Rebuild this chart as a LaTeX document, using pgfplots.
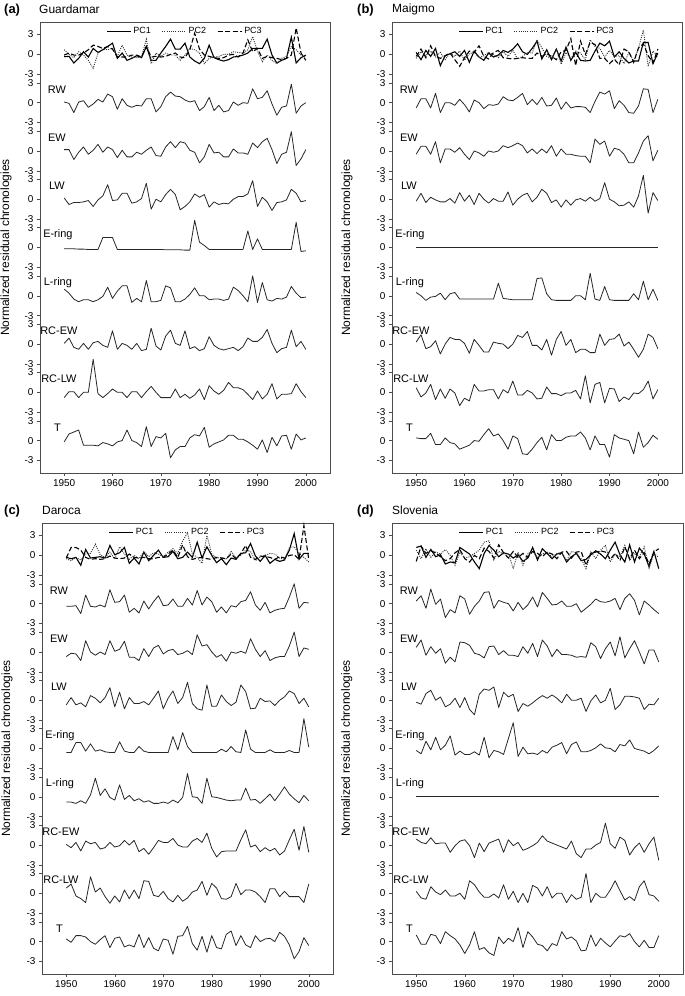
\documentclass[border=0pt]{standalone}
\usepackage{pgfplots}
\usepackage{pgfplotstable}
\pgfplotsset{compat=1.18}
\usepackage{fontspec}
\setmainfont{Liberation Sans}

\pgfplotstableread{
name 1950 1951 1952 1953 1954 1955 1956 1957 1958 1959 1960 1961 1962 1963 1964 1965 1966 1967 1968 1969 1970 1971 1972 1973 1974 1975 1976 1977 1978 1979 1980 1981 1982 1983 1984 1985 1986 1987 1988 1989 1990 1991 1992 1993 1994 1995 1996 1997 1998 1999 2000
pa -0.35 -0.3 -1.3 -0.6 0.4 -0.4 0.9 0.3 0.7 1.2  1.7 -0.6 0.2 -0.9 -0.6 -0.2 -0.5 1.2 -0.9 -0.9  0.2 1.2 2.3 0.8 0.8 1.7 -0.4 -1.0 -1.4 -0.6  1.4 -0.5 -0.8 -1.0 -0.8 -0.4 -0.3 -0.1 0.2 0.9  0.9 0.9 2.3 -0.1 -1.3 -0.9 -0.6 2.6 -1.3 -0.5  -0.1
pb 0.7 0.0 -0.5 0.4 -0.1 -0.9 -2.1 0.2 0.8 0.7  0.9 -0.3 1.4 -0.1 -0.4 -0.5 -0.4 2.3 -1.4 0.2  -0.3 0.2 -0.1 -0.1 -0.9 -0.1 0.9 0.7 0.2 -1.4  -0.6 -0.4 -0.3 0.0 0.0 0.4 0.3 0.2 0.7 2.7  0.5 -1.1 -0.1 -0.9 -1.4 -0.6 -0.3 1.2 0.7 -0.1  -0.4
pc -0.1 0.2 -0.1 -0.1 0.2 0.7 1.4 1.2 0.9 1.2  0.8 -0.4 -0.4 -0.4 -0.1 -0.1 -0.4 1.2 -0.4 -0.3  -0.4 -0.3 0.0 0.2 -0.4 -0.5 0.7 3.2 0.8 -0.1  -0.3 -0.5 -0.6 -0.5 -0.1 0.0 -0.4 0.2 2.2 0.4  0.9 -0.6 -0.3 -0.5 -0.6 -0.8 -0.6 -0.1 4.0 0.2  -0.9
rw 0.1 -0.1 -1.5 0.1 0.3 -0.7 -0.2 0.5 0.1 1.3  0.9 -1.0 0.6 -0.4 -0.7 -0.4 -0.5 0.6 0.6 -1.4  -0.6 0.9 1.6 1.0 0.9 0.4 0.1 0.3 -1.2 -0.6  0.8 -1.2 -0.4 -1.4 -1.2 0.1 -0.4 0.0 -0.1 2.1  0.6 0.8 1.8 -0.2 -1.9 -0.7 -0.5 2.8 -1.6 -0.5  0.0
ew 0.2 0.2 -1.3 -0.2 0.6 -0.5 0.1 1.0 -0.2 0.6  0.2 -1.0 0.1 -0.9 -0.9 -0.2 -0.5 0.1 0.6 -0.7  -0.8 0.6 1.4 0.5 1.4 1.2 0.1 -0.2 -1.8 -0.9  1.0 -0.3 -0.2 -0.9 -0.9 0.3 -0.3 -0.3 -0.5 1.2  0.5 1.4 1.9 0.2 -1.9 -0.5 -0.2 2.9 -2.2 -1.2  0.2
lw 0.2 -0.8 -0.5 -0.5 -0.4 -0.2 -1.1 -0.1 0.5 2.2  -0.2 -0.1 0.9 0.9 -0.6 -0.4 0.1 2.4 -1.5 0.0  -0.4 0.7 1.5 0.7 -1.6 -1.1 -0.4 0.8 0.3 0.7  -1.2 -0.4 -0.8 -0.6 -0.7 0.0 0.4 0.4 0.8 2.8  -1.1 0.3 -0.4 -1.7 -0.5 -0.4 -0.1 1.5 0.9 -0.4  -0.2
er -0.2 -0.2 -0.2 -0.25 -0.25 -0.3 -0.3 -0.3 1.5 1.5  1.5 -0.3 -0.3 -0.3 -0.3 -0.3 -0.3 -0.3 -0.3 -0.3  -0.3 -0.35 -0.35 -0.35 -0.35 -0.4 -0.4 4.1 0.8 0.3  -0.3 -0.3 -0.3 -0.3 -0.3 -0.3 -0.3 -0.3 2.5 -0.3  1.3 -0.3 -0.3 -0.3 -0.3 -0.3 -0.3 -0.3 3.8 -0.6  -0.5
lr 1.0 0.4 -0.5 -0.9 -0.6 -0.6 -0.9 -0.6 -0.1 1.3  -0.4 0.7 1.5 1.5 -1.0 -0.4 -0.9 2.3 -0.9 -0.9  -0.7 1.5 1.2 -0.9 -0.9 -0.5 0.2 1.2 0.0 0.0  -0.6 -0.5 -0.5 -0.7 -0.5 1.3 0.8 0.0 -0.9 3.0  -1.0 2.0 -0.6 -0.8 -0.4 -0.5 -0.2 1.4 0.4 -0.3  -0.2
rce 0.1 0.9 -0.5 -0.8 0.1 -0.8 0.2 0.4 -0.2 -0.5  2.0 -0.8 0.1 -0.2 -0.8 0.1 -1.0 -0.8 2.4 -0.3  -0.9 1.2 2.1 0.1 -0.2 2.0 -0.7 -0.4 -1.0 -0.7  1.1 -0.2 -0.7 -0.9 -0.7 -0.5 -1.0 -0.4 0.9 0.4  0.4 1.0 2.2 0.1 -1.3 -0.7 -0.5 2.1 -0.4 0.4  -0.8
rcl -0.8 0.1 0.1 -0.8 0.0 0.0 5.0 -0.2 -0.8 -0.2  0.5 0.0 0.0 -0.8 0.1 0.1 -0.8 0.1 0.9 0.0  -0.8 -0.8 -0.8 0.5 -0.8 -0.3 -0.9 -0.4 0.5 -1.1  1.0 0.2 -0.3 0.3 1.5 0.7 0.7 0.4 -0.3 -1.1  0.2 -1.0 -0.3 1.3 -1.0 -0.3 -0.3 -0.2 1.3 0.1  -0.8
t -0.2 1.0 1.3 1.6 -0.7 -0.7 -0.7 -0.8 -0.3 -0.5  -0.8 -0.2 0.0 1.6 0.0 -0.3 -0.9 2.1 -0.9 0.6  0.4 1.1 -2.6 -1.4 -0.9 -0.9 0.4 0.9 0.7 2.0  -1.0 -0.5 -0.2 0.1 0.8 0.8 0.2 0.2 -0.2 -0.7  -1.3 0.1 -1.8 0.5 -0.8 0.7 0.8 -1.3 1.0 0.1  0.4
}\rawA

\pgfplotstableread{
name 1950 1951 1952 1953 1954 1955 1956 1957 1958 1959 1960 1961 1962 1963 1964 1965 1966 1967 1968 1969 1970 1971 1972 1973 1974 1975 1976 1977 1978 1979 1980 1981 1982 1983 1984 1985 1986 1987 1988 1989 1990 1991 1992 1993 1994 1995 1996 1997 1998 1999 2000
pa 0.3 -0.8 0.6 -0.3 0.9 -1.7 -0.2 0.1 0.4 -0.3  0.6 -1.2 0.5 -0.4 -0.9 0.2 -0.4 -0.1 0.6 0.3  0.8 1.6 0.4 0.0 0.9 2.0 -0.7 0.7 -0.8 0.8  -1.0 1.1 -0.9 0.3 -0.9 -1.0 -0.9 0.5 1.7 1.3  2.0 -0.4 0.4 -0.6 -1.3 -1.0 -1.0 1.8 1.8 -1.4  0.2
pb -0.6 0.4 -0.2 0.5 -0.4 0.3 -0.8 0.2 -0.3 0.5  -0.9 0.1 0.3 -0.5 -0.2 0.3 0.0 -0.5 0.4 -0.3  0.6 -0.7 -0.3 0.3 0.2 2.2 1.0 -0.3 -0.6 0.8  -1.5 0.3 -0.6 0.5 0.2 -0.8 2.2 1.2 0.9 -0.4  0.6 -0.3 -0.2 -1.4 0.3 -1.0 0.9 3.7 -1.8 0.5  -0.3
pc -0.3 0.8 -0.5 1.3 -0.3 -0.6 -0.2 0.2 -0.8 -1.8  -0.5 0.5 0.3 1.3 -0.3 -0.7 0.3 0.6 -0.5 -0.6  -0.7 -0.6 -0.5 -0.6 -0.6 0.2 -0.3 0.1 -0.3 -0.8  0.4 0.6 2.4 -1.7 2.0 0.0 1.8 1.5 -0.6 -0.6  -1.4 -0.7 -1.6 0.8 0.4 -1.2 1.0 1.6 -0.2 -1.3  0.8
rw -0.8 0.6 0.6 -0.8 1.4 -1.5 0.0 0.0 -0.4 0.5  -0.3 -1.4 0.4 0.0 -0.9 -0.3 -0.4 -0.2 0.9 0.4  0.3 0.8 1.4 -0.3 0.5 -0.3 0.8 -0.5 -0.4 0.7  -1.0 0.1 -0.8 -0.6 -0.6 -0.7 -1.5 0.2 1.6 1.3  1.8 -0.9 0.3 -0.4 -1.5 -1.6 -0.5 2.1 2.0 -1.5  0.5
ew -0.5 0.7 0.7 -0.5 1.4 -1.8 0.3 0.3 -0.2 0.5  -0.5 -1.3 0.0 -0.3 -0.8 0.0 -0.2 0.0 0.8 0.5  0.8 1.2 0.8 -0.3 0.3 -0.4 0.3 -0.3 0.8 -0.8  0.3 -0.5 -0.5 -0.7 -0.8 -0.8 -1.8 1.8 1.0 1.5  -0.8 0.4 0.2 -0.5 -1.8 -1.8 -0.3 1.5 2.3 -1.5  0.1
lw -0.3 0.9 -0.5 0.3 -0.1 -0.4 -0.4 0.1 -0.6 1.0  -0.3 0.6 -0.8 0.9 0.0 -0.6 0.1 -0.3 -0.3 1.1  -0.9 0.0 0.6 0.9 -0.4 0.3 1.5 0.9 -0.5 -0.1  -1.2 -0.1 -0.9 -0.1 0.1 -0.3 0.3 -0.3 0.1 2.5  0.0 -0.4 -1.0 -0.9 -0.4 -1.2 0.5 3.6 -2.1 1.0  -0.2
er 0 0 0 0 0 0 0 0 0 0  0 0 0 0 0 0 0 0 0 0  0 0 0 0 0 0 0 0 0 0  0 0 0 0 0 0 0 0 0 0  0 0 0 0 0 0 0 0 0 0  0
lr 0.5 0.0 -0.7 -0.2 -0.1 0.4 -0.6 0.3 0.5 -0.5  -0.5 -0.5 -0.5 -0.5 -0.5 -0.5 -0.5 1.9 -0.4 -0.5  -0.6 -0.6 -0.6 -0.6 -0.6 2.6 2.7 0.3 -0.6 -0.7  -0.7 -0.7 -0.7 0.0 0.0 -0.6 3.4 -0.5 -0.7 1.4  -0.6 -0.7 -0.7 -0.7 -0.7 0.3 -0.6 2.2 -0.6 1.0  -0.7
rce 0.3 1.4 -0.7 -0.4 0.5 -1.5 0.0 1.0 0.7 0.7  0.1 -1.4 0.7 -0.2 -1.2 -1.2 0.3 0.1 0.0 -0.7  0.0 1.3 1.0 1.9 -0.2 -0.2 -0.9 0.7 -1.7 0.7  1.9 -0.2 0.7 -1.3 -0.8 -0.8 -1.3 -1.3 1.5 -0.2  0.7 0.8 1.5 -0.3 0.3 -0.8 -2.0 -0.8 1.5 1.0  -0.7
rcl 0.7 -0.7 -0.1 1.2 -1.1 0.5 -0.9 0.5 -0.1 -2.0  -0.9 -1.3 1.2 0.2 0.2 0.4 0.4 -1.0 0.4 -0.1  1.7 -0.4 -0.4 0.3 -0.1 -1.0 -0.9 0.8 -0.2 -0.2  -0.5 -0.1 -0.1 0.3 -1.0 2.5 -1.6 1.2 1.5 -1.6  0.6 0.5 -1.4 -0.7 -1.1 -0.1 -0.2 0.4 1.7 -1.0  0.4
t 0.4 0.3 0.3 1.1 -0.6 -0.6 0.4 -0.3 -0.5 -1.3  -1.0 -0.7 0.0 -0.1 0.9 1.8 0.7 1.0 0.0 -1.3  0.7 0.3 -2.0 -2.1 -1.3 -0.3 0.5 -1.4 0.9 0.0  0.0 0.5 0.7 0.7 1.3 0.4 -1.4 0.7 -0.6 -0.6  -2.5 0.9 0.4 0.2 0.0 -2.0 1.3 -1.0 -0.3 0.8  0.2
}\rawB

\pgfplotstableread{
name 1950 1951 1952 1953 1954 1955 1956 1957 1958 1959 1960 1961 1962 1963 1964 1965 1966 1967 1968 1969 1970 1971 1972 1973 1974 1975 1976 1977 1978 1979 1980 1981 1982 1983 1984 1985 1986 1987 1988 1989 1990 1991 1992 1993 1994 1995 1996 1997 1998 1999 2000
pa -0.3 -0.5 -0.3 -1.5 0.9 -0.4 -0.3 -0.2 -0.4 1.5  0.1 0.4 1.2 -1.2 -0.4 -1.3 0.5 -0.8 0.0 0.8  -0.3 -0.2 0.6 -0.5 -0.3 0.5 -0.3 2.0 -0.4 1.3  0.0 -1.1 -0.5 -1.4 -0.4 -0.6 0.3 0.4 1.8 -0.1  -0.9 0.0 -1.2 -0.6 -0.9 -0.7 0.8 3.3 -0.6 0.3  0.3
pb -0.5 -0.8 -0.3 -0.7 0.2 0.3 1.7 0.1 -0.3 0.5  -0.5 1.3 0.2 -0.6 0.0 -0.5 0.6 -0.2 0.4 0.2  -0.2 0.5 1.0 0.3 2.2 3.4 0.2 -0.3 -1.2 3.0  0.2 -0.4 -0.3 -0.6 0.6 -0.4 0.0 0.8 0.6 -0.8  -0.2 0.0 0.3 0.2 -0.4 -0.6 1.2 1.3 0.3 -0.3  -1.0
pc -0.4 1.2 1.2 0.8 -0.3 -0.6 -0.5 -0.6 -0.5 -0.1  -0.4 -0.5 -0.4 0.2 -0.3 -0.4 -0.3 -0.5 -0.5 -0.3  -0.3 0.2 0.8 -0.3 1.6 -0.2 -0.6 -0.4 -0.3 -0.5  -0.6 -0.3 -0.4 -0.5 0.2 -0.5 0.3 1.5 -0.3 -0.6  -0.1 -0.2 -0.3 -0.6 -0.2 -0.4 0.0 0.1 -0.6 4.5  -0.6
rw -0.4 -0.4 -0.3 -1.5 1.3 -0.4 -0.5 -0.2 -0.5 2.1  0.2 0.3 1.3 -1.3 -0.7 -1.4 0.4 -0.8 0.3 1.2  -0.3 -0.2 0.7 -0.4 -0.4 0.8 -0.2 2.0 -0.2 1.0  0.3 -1.3 -0.5 -1.4 -0.3 -0.5 0.3 0.5 1.8 -0.2  -1.0 0.2 -1.4 -1.0 -0.8 -0.7 1.0 3.0 -0.7 0.2  0.1
ew -0.7 -0.2 -0.3 -1.3 1.7 0.0 -0.5 0.0 -0.4 1.7  0.1 0.4 1.6 -0.8 -0.8 -1.3 0.5 -0.7 0.6 1.0  -0.3 0.2 0.4 -0.4 -0.2 0.2 -0.4 2.6 0.9 1.1  0.0 -0.8 -0.4 -1.4 0.0 -0.2 0.1 -0.2 2.0 0.4  -0.7 0.2 -1.3 -0.9 -0.7 -0.7 0.9 3.0 -0.7 0.6  0.4
lw -0.7 0.4 -0.7 -0.4 -1.0 0.7 0.3 -0.4 0.4 1.9  -1.0 1.2 -1.3 0.4 -0.5 -0.5 -0.2 -0.7 0.3 1.4  -1.3 0.3 1.4 -0.5 0.4 2.7 -0.5 -1.3 -1.5 2.3  -0.9 -0.9 0.8 -0.2 -0.8 -0.3 2.3 1.3 -1.3 -1.2  0.3 -0.2 -0.1 -0.8 0.0 0.5 1.4 1.0 -0.5 0.3  -1.0
er -0.6 -0.6 0.9 0.9 -0.4 0.7 -0.4 -0.2 -0.5 -0.6  -0.6 1.0 -0.4 -0.6 -0.6 0.3 -0.4 -0.6 -0.6 -0.6  -0.6 -0.6 1.8 -0.2 2.4 0.3 -0.6 -0.6 -0.6 -0.6  -0.6 -0.6 -0.1 -0.5 0.3 -0.5 -0.6 2.8 -0.1 -0.6  -0.6 -0.6 -0.2 -0.6 -0.6 -0.6 -0.3 -0.6 -0.6 4.5  0.2
lr -0.8 -0.8 -1.0 -0.6 -1.0 0.3 2.8 0.2 1.2 -0.1  -0.5 1.8 -0.4 0.2 -0.6 -0.3 -0.8 -0.6 -1.0 -1.0  -0.8 -1.0 -0.5 -0.9 -0.1 3.5 0.0 -0.1 -1.0 2.8  0.0 -0.1 -0.3 -0.5 -0.6 -0.5 -0.5 1.3 -0.5 -0.4  -1.0 -0.3 0.4 -0.6 0.4 1.5 0.4 -0.3 -0.9 0.2  -0.6
rce 0.1 -0.4 0.4 -0.9 0.6 0.2 0.4 -0.6 -0.4 0.4  -0.3 -0.1 0.7 0.0 0.7 -1.0 -0.5 -1.4 -0.4 0.7  0.4 0.4 1.0 0.0 -0.3 -0.3 0.6 1.0 0.4 1.8  -0.5 -1.8 -1.0 -0.9 -0.9 -0.9 0.8 2.3 -0.3 0.0  -1.0 -0.4 -0.9 -0.5 -1.5 -0.9 0.8 2.4 -0.8 2.8  -1.1
rcl 0.8 1.4 -0.4 -0.8 -1.4 2.5 0.2 0.8 -0.5 -1.5  -0.4 -1.3 0.5 -0.8 0.5 -0.8 1.9 1.8 -0.3 -0.5  0.3 -0.8 -1.3 -0.3 -1.2 -0.7 0.2 0.5 1.8 -0.3  1.5 0.8 -0.8 -0.9 -0.5 1.5 -0.2 0.5 0.5 0.2  -0.5 -1.4 0.7 0.7 -0.5 0.3 -0.5 -0.5 -0.5 -1.4  1.4
t 0.4 -0.1 0.9 0.9 0.7 0.0 -0.4 0.3 0.9 -0.9  0.5 0.7 -0.8 -0.5 -0.8 1.1 -0.9 0.6 -1.0 -1.4  0.4 0.2 -1.9 0.8 0.9 2.3 -0.3 -1.3 0.8 -1.6  0.9 -0.9 -1.1 1.1 1.6 -0.6 0.9 -0.5 -0.9 0.9  0.0 0.4 0.5 0.0 1.4 0.8 -0.5 -2.6 -1.5 0.6  -0.6
}\rawC

\pgfplotstableread{
name 1950 1951 1952 1953 1954 1955 1956 1957 1958 1959 1960 1961 1962 1963 1964 1965 1966 1967 1968 1969 1970 1971 1972 1973 1974 1975 1976 1977 1978 1979 1980 1981 1982 1983 1984 1985 1986 1987 1988 1989 1990 1991 1992 1993 1994 1995 1996 1997 1998 1999 2000
pa 1.2 1.4 -0.3 0.9 -0.2 0.1 -1.3 -1.0 -1.1 1.2  0.7 0.2 -1.0 -2.0 0.3 1.5 0.8 -0.2 0.4 0.2  -0.4 0.1 -0.9 -0.4 1.2 -0.7 1.0 0.3 -0.5 0.2  0.4 -1.0 -0.2 0.3 -0.8 -0.6 0.1 0.7 0.2 -0.5  0.8 2.0 0.1 -1.0 1.6 -1.0 1.1 0.2 -1.7 0.6  -2.0
pb 0.8 -0.5 1.0 -0.3 0.5 0.2 0.9 0.0 -1.5 0.5  -0.4 -0.2 0.3 0.8 2.0 2.2 -0.7 0.6 0.2 0.3  -2.0 0.5 -1.5 0.3 0.6 -0.3 0.2 0.5 -0.3 0.3  0.4 -0.8 0.6 0.4 -0.5 -2.0 0.6 -0.5 0.8 1.5  -1.0 0.2 -0.2 1.5 -0.8 0.3 -0.2 1.3 -1.9 0.3  -0.3
pc -0.9 1.4 0.3 0.7 0.4 -0.2 -0.8 -0.5 0.4 0.9  -0.5 -1.0 0.0 -0.5 1.1 0.6 -0.4 1.6 0.4 -0.4  0.6 -0.3 0.3 -0.3 0.6 0.3 -0.2 0.5 0.2 -0.5  0.5 0.6 -0.4 0.5 0.6 -1.5 0.3 0.5 0.7 0.5  -0.6 0.3 -0.8 1.3 -0.5 0.8 -0.5 0.4 -1.3 0.5  1.0
rw 0.4 1.2 -0.7 2.2 -0.1 0.7 -2.1 -0.9 -1.4 1.2  0.7 -1.6 -0.4 0.4 1.7 1.8 -0.7 0.5 0.2 0.0  -1.1 0.2 -0.9 -0.2 1.0 -0.5 1.7 0.8 -0.2 -0.1  0.4 -0.4 -0.4 0.0 -1.3 -0.7 -0.1 0.7 0.3 0.2  0.4 0.8 -0.9 0.8 1.5 0.5 -1.7 0.4 -0.2 -0.9  -1.5
ew 0.7 1.8 -0.5 0.8 -0.2 0.5 -1.7 -0.8 -1.5 1.5  1.4 1.0 -0.2 -0.4 -0.9 0.8 0.9 -0.4 0.2 -0.5  -0.5 -0.7 0.8 -0.2 1.3 -0.7 1.8 0.9 -0.7 0.4  -0.4 -0.4 -0.5 -0.8 -0.7 -0.8 1.4 0.8 -1.0 0.5  1.5 -0.6 2.3 -0.9 0.5 1.7 0.0 -1.8 0.3 0.3  -1.5
lw -0.3 -0.6 1.0 1.5 0.0 0.5 -1.0 -0.6 0.3 -1.1  0.4 -1.4 -2.2 0.9 1.7 1.5 2.0 -1.1 1.2 0.5  0.9 -1.7 -0.5 -0.9 -0.4 0.2 0.7 0.3 0.8 0.3  -0.4 0.9 0.0 0.0 0.3 -1.7 -0.1 0.8 -0.4 0.0  1.8 -1.4 -0.7 0.6 0.6 0.5 0.3 -1.4 -0.6 -0.7  0.3
er -0.3 -0.8 1.1 -0.2 1.7 -0.2 0.5 1.9 -1.0 -0.4  -0.9 -0.9 -0.5 -1.0 1.7 -1.4 -0.3 -0.5 -0.9 1.5  3.9 -1.2 0.2 -0.8 -0.7 -0.9 -0.3 -0.7 0.2 0.5  0.9 -0.8 0.6 1.0 -0.5 -0.5 -0.3 0.1 0.7 0.1  0.0 -0.5 0.6 0.4 1.3 0.0 -0.2 -0.4 -0.8 -0.3  0.4
lr 0 0 0 0 0 0 0 0 0 0  0 0 0 0 0 0 0 0 0 0  0 0 0 0 0 0 0 0 0 0  0 0 0 0 0 0 0 0 0 0  0 0 0 0 0 0 0 0 0 0  0
rce 0.9 0.4 0.2 1.1 0.2 0.3 0.3 -1.1 -0.1 0.6  0.8 -0.1 -1.9 0.3 -1.0 0.3 0.6 0.9 -1.1 0.8  -0.1 0.4 -0.8 -0.5 -0.1 0.4 1.4 0.6 0.3 0.0  -0.3 -0.6 0.6 -1.3 -1.9 -0.6 -0.6 0.0 0.4 3.3  0.2 -0.5 1.2 0.7 -1.5 -0.4 0.3 -1.1 0.2 1.2  -2.3
rcl 0.3 -0.7 -0.9 1.0 0.2 -0.2 0.5 -0.4 -0.4 0.0  -0.9 1.9 1.3 0.2 -0.6 -0.6 -0.1 -0.7 1.3 -0.9  0.3 -1.4 0.0 -1.4 1.2 0.8 -0.4 1.0 -0.7 0.0  0.0 -1.4 -0.2 -0.9 -0.6 3.0 -1.4 0.0 -0.6 -0.6  0.5 1.9 0.4 -1.0 -0.5 -1.1 1.0 1.9 -0.2 -0.4  -1.2
t 1.0 -0.4 -0.4 1.1 0.9 -0.3 1.5 0.9 0.4 -0.5  -1.8 -0.5 1.5 -1.2 -0.9 -1.7 -2.1 0.7 -0.3 0.5  0.0 2.1 -0.9 1.5 0.7 -0.4 -0.6 -1.4 -0.3 -0.6  1.5 0.4 0.7 0.1 -1.4 -1.3 1.0 -0.7 0.5 -0.2  -0.8 0.1 0.9 0.7 1.2 0.0 -0.8 0.2 -0.9 -0.9  0.9
}\rawD

\pgfplotstabletranspose[colnames from=name,input colnames to=yr]{\tabA}{\rawA}
\pgfplotstabletranspose[colnames from=name,input colnames to=yr]{\tabB}{\rawB}
\pgfplotstabletranspose[colnames from=name,input colnames to=yr]{\tabC}{\rawC}
\pgfplotstabletranspose[colnames from=name,input colnames to=yr]{\tabD}{\rawD}

\tikzset{
  lab/.style={font=\fontsize{11}{13}\selectfont, inner sep=0pt, anchor=center},
}

\pgfplotsset{
  panel/.style={
    scale only axis, height=451bp,
    xmin=1945, xmax=2005, ymin=-63.3, ymax=4.9,
    xtick={1950,1960,1970,1980,1990,2000},
    ytick={-61.4,-58.4,-55.4,-54.1,-51.1,-48.1,-46.8,-43.8,-40.8,-39.5,-36.5,-33.5,-32.2,-29.2,-26.2,-24.9,-21.9,-18.9,-17.6,-14.6,-11.6,-10.3,-7.3,-4.3,-3,0,3},
    yticklabels={-3,0,3,-3,0,3,-3,0,3,-3,0,3,-3,0,3,-3,0,3,-3,0,3,-3,0,3,-3,0,3},
    tick label style={font=\fontsize{10}{11}\selectfont},
    /pgf/number format/assume math mode=true,
    /pgf/number format/1000 sep={},
    tick align=outside, major tick length=3bp,
    xtick pos=left, ytick pos=left,
    axis line style={black!70, line width=0.6pt},
    every tick/.style={black!70, line width=0.5pt},
    clip=false,
    legend style={draw=none, fill=none, at={(0.5,0.997)}, anchor=north,
      font=\fontsize{9}{10}\selectfont,
      /tikz/every even column/.append style={column sep=9bp}},
    legend columns=3,
    legend image code/.code={\draw[##1] (0bp,0bp) -- (24bp,0bp);},
    ylabel={Normalized residual chronologies},
    ylabel style={anchor=center, font=\fontsize{12}{14}\selectfont},
  },
  pcone/.style={black, line width=1.1pt},
  pctwo/.style={black!80, line width=0.9pt, dash pattern=on 1pt off 1.2pt},
  pcthree/.style={black, line width=1.1pt, dash pattern=on 5pt off 2.5pt},
  ser/.style={forget plot, black!85, line width=0.8pt, line join=round},
}

\newcommand\bands[1]{%
  \addplot[pcone] table[x=yr,y=pa]{#1};\addlegendentry{PC1}
  \addplot[pctwo] table[x=yr,y=pb]{#1};\addlegendentry{PC2}
  \addplot[pcthree] table[x=yr,y=pc]{#1};\addlegendentry{PC3}
  \addplot[ser] table[x=yr,y expr=\thisrow{rw}-7.3]{#1};
  \addplot[ser] table[x=yr,y expr=\thisrow{ew}-14.6]{#1};
  \addplot[ser] table[x=yr,y expr=\thisrow{lw}-21.9]{#1};
  \addplot[ser] table[x=yr,y expr=\thisrow{er}-29.2]{#1};
  \addplot[ser] table[x=yr,y expr=\thisrow{lr}-36.5]{#1};
  \addplot[ser] table[x=yr,y expr=\thisrow{rce}-43.8]{#1};
  \addplot[ser] table[x=yr,y expr=\thisrow{rcl}-51.1]{#1};
  \addplot[ser] table[x=yr,y expr=\thisrow{t}-58.4]{#1};
  \node[lab] at (axis cs:1948.5,-5.3) {RW};
  \node[lab] at (axis cs:1948.5,-12.6) {EW};
  \node[lab] at (axis cs:1948.5,-19.9) {LW};
  \node[lab] at (axis cs:1948.7,-27.2) {E-ring};
  \node[lab] at (axis cs:1948.7,-34.5) {L-ring};
  \node[lab] at (axis cs:1948.9,-41.8) {RC-EW};
  \node[lab] at (axis cs:1948.9,-49.1) {RC-LW};
  \node[lab] at (axis cs:1948.6,-56.4) {T};
}

\begin{document}
\begin{tikzpicture}
\path[use as bounding box] (0,0) rectangle (685bp,996bp);

\begin{axis}[panel, width=290bp, at={(40bp,523bp)}, anchor=south west,
  ylabel style={at={(axis description cs:-0.117,0.5)}}]
\bands{\tabA}
\end{axis}

\begin{axis}[panel, width=290bp, at={(392bp,523bp)}, anchor=south west,
  ylabel style={at={(axis description cs:-0.155,0.5)}}]
\bands{\tabB}
\end{axis}

\begin{axis}[panel, width=291bp, at={(42bp,22bp)}, anchor=south west,
  ylabel style={at={(axis description cs:-0.12,0.5)}}]
\bands{\tabC}
\end{axis}

\begin{axis}[panel, width=291bp, at={(392bp,22bp)}, anchor=south west,
  ylabel style={at={(axis description cs:-0.155,0.5)}}]
\bands{\tabD}
\end{axis}

\node[anchor=west, inner sep=0pt, font=\bfseries\fontsize{13}{15}\selectfont] at (4bp,986bp) {(a)};
\node[anchor=west, inner sep=0pt, font=\fontsize{12}{14}\selectfont] at (39bp,987bp) {Guardamar};
\node[anchor=west, inner sep=0pt, font=\bfseries\fontsize{13}{15}\selectfont] at (357bp,986bp) {(b)};
\node[anchor=west, inner sep=0pt, font=\fontsize{12}{14}\selectfont] at (392bp,987bp) {Maigmo};
\node[anchor=west, inner sep=0pt, font=\bfseries\fontsize{13}{15}\selectfont] at (4bp,485bp) {(c)};
\node[anchor=west, inner sep=0pt, font=\fontsize{12}{14}\selectfont] at (42bp,486bp) {Daroca};
\node[anchor=west, inner sep=0pt, font=\bfseries\fontsize{13}{15}\selectfont] at (357bp,485bp) {(d)};
\node[anchor=west, inner sep=0pt, font=\fontsize{12}{14}\selectfont] at (392bp,486bp) {Slovenia};
\end{tikzpicture}
\end{document}
